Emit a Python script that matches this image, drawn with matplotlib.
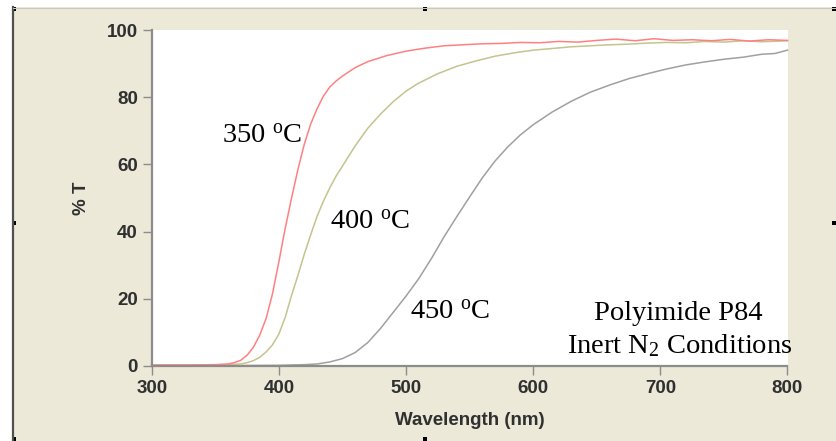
import matplotlib
matplotlib.use("Agg")
import matplotlib.pyplot as plt
from matplotlib.patches import Rectangle

# transmission spectra
wl_350 = [300, 330, 350, 360, 365, 370, 375, 380, 385, 390, 395, 400, 405, 410,
          415, 420, 425, 430, 435, 440, 445, 450, 460, 470, 485, 500, 515, 530,
          545, 560, 575, 590, 605, 620, 635, 650, 665, 680, 695, 710, 725, 740,
          755, 770, 785, 800]
t_350 = [0.3, 0.3, 0.4, 0.6, 1.0, 1.7, 3.2, 5.6, 9.2, 14.2, 21.5, 31, 41, 50,
         58.5, 66, 72, 76.5, 80.3, 83, 84.8, 86.3, 88.8, 90.6, 92.4, 93.7, 94.6, 95.3,
         95.6, 95.9, 96.0, 96.3, 96.2, 96.6, 96.4, 96.9, 97.3, 96.8, 97.4, 96.9, 97.1, 96.8,
         97.2, 96.7, 97.1, 96.9]

wl_400 = [300, 340, 360, 370, 375, 380, 385, 390, 395, 400, 405, 410, 415, 420,
          425, 430, 435, 440, 445, 450, 460, 470, 480, 490, 500, 510, 525, 540,
          555, 570, 585, 600, 615, 630, 645, 660, 675, 690, 705, 720, 735, 750,
          765, 780, 800]
t_400 = [0.2, 0.3, 0.4, 0.6, 1.0, 1.6, 2.6, 4.2, 6.3, 9.5, 14.5, 21, 27, 33.3,
         39, 44.5, 49, 53, 56.5, 59.5, 65.5, 70.8, 75, 78.7, 81.8, 84.2, 87, 89.2,
         90.8, 92.2, 93.2, 94, 94.5, 95, 95.3, 95.6, 95.8, 96.1, 96.3, 96.2, 96.6, 96.4,
         96.8, 96.5, 96.8]

wl_450 = [300, 350, 400, 420, 430, 440, 450, 460, 470, 480, 490, 500, 510, 520,
          530, 540, 550, 560, 570, 580, 590, 600, 615, 630, 645, 660, 675, 690,
          705, 720, 735, 750, 765, 780, 790, 800]
t_450 = [0.1, 0.1, 0.2, 0.4, 0.6, 1.2, 2.2, 4.0, 7.0, 11.2, 16, 20.8, 26, 32,
         38.5, 44.5, 50.3, 56, 61, 65.2, 68.8, 71.8, 75.6, 78.8, 81.5, 83.6, 85.5, 87,
         88.4, 89.6, 90.5, 91.3, 91.9, 92.8, 93.0, 94.0]

x_ticks = [300, 400, 500, 600, 700, 800]
y_ticks = [0, 20, 40, 60, 80, 100]

plt.rcParams['mathtext.fontset'] = 'custom'
plt.rcParams['mathtext.rm'] = 'Liberation Serif'
plt.rcParams['mathtext.it'] = 'Liberation Serif:italic'

W, H = 836, 441
fig = plt.figure(figsize=(W / 100, H / 100), dpi=100, facecolor='white')

# window-like frame behind the graph
fig.add_artist(Rectangle((13 / W, 0), 1 - 13 / W, 1 - 7 / H, transform=fig.transFigure,
                         facecolor='#ECE9D8', edgecolor='none', zorder=-10))
fig.add_artist(plt.Line2D([12.5 / W, 12.5 / W], [0, 1 - 7 / H], transform=fig.transFigure,
                          color='#505050', lw=1.6))
fig.add_artist(plt.Line2D([13 / W, 1], [1 - 7.5 / H, 1 - 7.5 / H], transform=fig.transFigure,
                          color='#C8C8C0', lw=0.8))
for hx, hy in [(12, 7), (423, 7), (832, 7), (12, 221), (832, 221), (12, 437), (423, 437)]:
    fig.add_artist(Rectangle((hx / W, 1 - (hy + 4) / H), 4 / W, 4 / H,
                             transform=fig.transFigure, facecolor='black', edgecolor='none'))

ax = fig.add_axes([151.7 / W, 1 - 366 / H, (787.5 - 151.7) / W, (366 - 30) / H])
ax.set_facecolor('white')

ax.plot(wl_450, t_450, color='#A0A0A0', lw=1.1, clip_on=False)
ax.plot(wl_400, t_400, color='#C4C48E', lw=1.1, clip_on=False)
ax.plot(wl_350, t_350, color='#FF8080', lw=1.1, clip_on=False)

ax.set_xlim(300, 800)
ax.set_ylim(0, 100)
ax.set_xticks(x_ticks)
ax.set_yticks(y_ticks)

for s in ['top', 'right']:
    ax.spines[s].set_visible(False)
for s in ['left', 'bottom']:
    ax.spines[s].set_color('#8C8C8C')
    ax.spines[s].set_linewidth(1.6)

ax.tick_params(direction='out', length=6.5, width=1, color='#8C8C8C', pad=3.5,
               labelsize=13.5, labelcolor='#303030')
for lab in ax.get_xticklabels() + ax.get_yticklabels():
    lab.set_fontweight('bold')
    lab.set_fontfamily('Liberation Sans')

ax.set_xlabel('Wavelength (nm)', fontsize=13.5, fontweight='bold', family='Liberation Sans',
              color='#303030')
ax.xaxis.set_label_coords(0.5, -0.163)
ax.set_ylabel('% T', fontsize=13.5, fontweight='bold', family='Liberation Sans',
              color='#303030')
ax.yaxis.set_label_coords(-0.11, 0.5)
ax.yaxis.label.set_va('center')
ax.xaxis.label.set_va('center')

serif = dict(family='Liberation Serif', fontsize=20.5, color='black')
ax.text(355.3, 66.3, r'350 $^{\mathrm{o}}$C', ha='left', va='baseline', **serif)
ax.text(440.2, 40.6, r'400 $^{\mathrm{o}}$C', ha='left', va='baseline', **serif)
ax.text(503.2, 14.1, r'450 $^{\mathrm{o}}$C', ha='left', va='baseline', **serif)
ax.text(714, 13.6, 'Polyimide P84', ha='center', va='baseline', **serif)
ax.text(715.6, 3.7, r'Inert N$_2$ Conditions', ha='center', va='baseline', clip_on=False, **serif)

fig.savefig('out.png', dpi=100, facecolor=fig.get_facecolor())
